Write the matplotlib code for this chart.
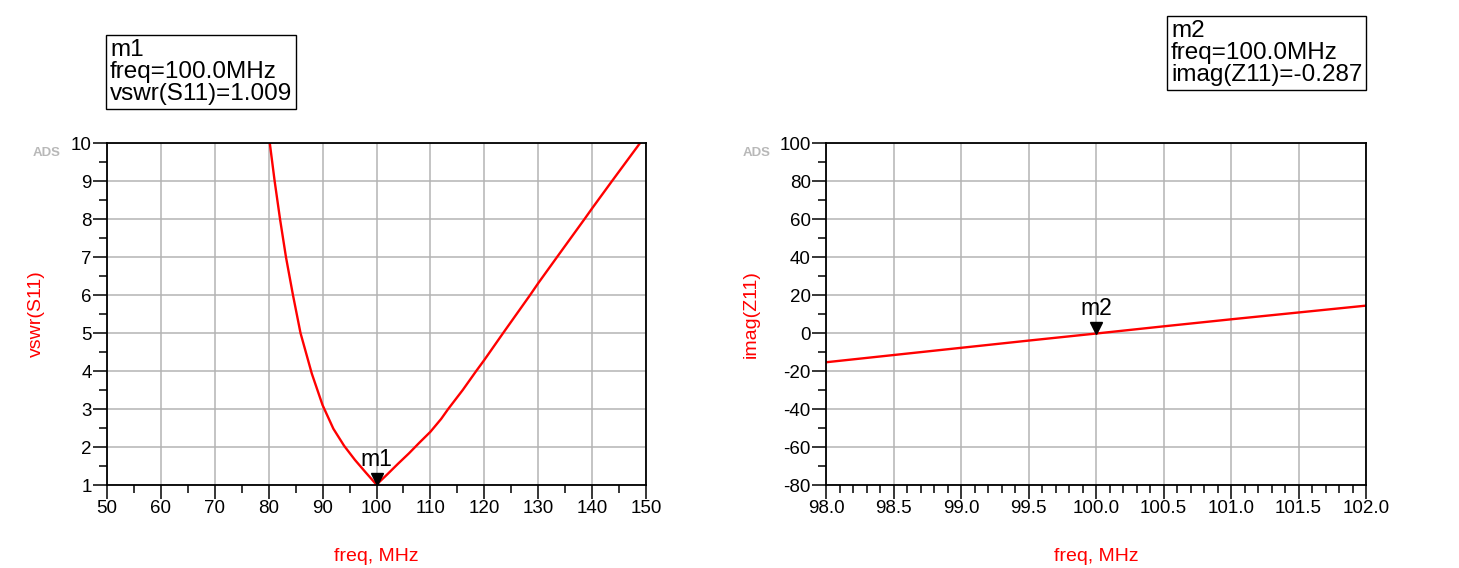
import matplotlib.pyplot as plt
from matplotlib.ticker import MultipleLocator, FormatStrFormatter
from matplotlib.transforms import ScaledTranslation

plt.rcParams['font.family'] = ['Liberation Sans', 'DejaVu Sans']
plt.rcParams['axes.unicode_minus'] = False

# --- data ---
# left: vswr(S11) vs freq (MHz)
freq_vswr = [80.0, 80.2, 81.1, 82.1, 83.2, 84.5, 85.9, 88.0, 90.0, 92.0, 94.0, 96.0, 98.0,
             100.0, 102.0, 104.0, 106.0, 108.0, 110.0, 112.0, 113.3, 116.0, 118.5, 120.0,
             123.5, 128.5, 130.0, 133.5, 138.6, 140.0, 143.7, 148.9, 150.0]
vswr_s11 = [10.2, 10.0, 9.0, 8.0, 7.0, 6.0, 5.0, 3.93, 3.1, 2.48, 2.03, 1.66, 1.33,
            1.009, 1.28, 1.56, 1.83, 2.12, 2.4, 2.74, 3.0, 3.5, 4.0, 4.29,
            5.0, 6.0, 6.31, 7.0, 8.0, 8.28, 9.0, 10.0, 10.22]

# right: imag(Z11) vs freq (MHz)
freq_z = [98.0, 98.5, 99.0, 99.5, 100.0, 100.5, 101.0, 101.5, 102.0]
imag_z11 = [-15.4, -11.6, -7.8, -4.0, -0.287, 3.5, 7.2, 10.8, 14.4]

m1_freq, m1_val = 100.0, 1.009
m2_freq, m2_val = 100.0, -0.287

red = '#ff0000'
grid_c = '#b4b4b4'

fig = plt.figure(figsize=(14.59, 5.68), dpi=100)
ax1 = fig.add_axes([107 / 1459, 1 - 485 / 568, 539 / 1459, 342 / 568])
ax2 = fig.add_axes([826 / 1459, 1 - 485 / 568, 540 / 1459, 342 / 568])


def style(ax):
    ax.grid(True, which='major', color=grid_c, linewidth=1.1)
    ax.set_axisbelow(True)
    for s in ax.spines.values():
        s.set_linewidth(1.3)
        s.set_color('black')
    ax.tick_params(which='major', direction='out', length=10, width=1.1,
                   labelsize=13.5, pad=1.0)
    ax.tick_params(which='minor', direction='out', length=6, width=1.1)


# --- left plot ---
ax1.plot(freq_vswr, vswr_s11, color=red, linewidth=1.7)
ax1.set_xlim(50, 150)
ax1.set_ylim(1, 10)
ax1.xaxis.set_major_locator(MultipleLocator(10))
ax1.xaxis.set_minor_locator(MultipleLocator(5))
ax1.yaxis.set_major_locator(MultipleLocator(1))
ax1.yaxis.set_minor_locator(MultipleLocator(0.5))
style(ax1)
ax1.set_xlabel('freq, MHz', color=red, fontsize=14)
ax1.set_ylabel('vswr(S11)', color=red, fontsize=14)
ax1.xaxis.set_label_coords(0.5, -0.185)
ax1.yaxis.set_label_coords(-0.115, 0.5)

# --- right plot ---
ax2.plot(freq_z, imag_z11, color=red, linewidth=1.7)
ax2.set_xlim(98, 102)
ax2.set_ylim(-80, 100)
ax2.xaxis.set_major_locator(MultipleLocator(0.5))
ax2.xaxis.set_minor_locator(MultipleLocator(0.1))
ax2.xaxis.set_major_formatter(FormatStrFormatter('%.1f'))
ax2.yaxis.set_major_locator(MultipleLocator(20))
ax2.yaxis.set_minor_locator(MultipleLocator(10))
style(ax2)
ax2.set_xlabel('freq, MHz', color=red, fontsize=14)
ax2.set_ylabel('imag(Z11)', color=red, fontsize=14)
ax2.xaxis.set_label_coords(0.5, -0.185)
ax2.yaxis.set_label_coords(-0.122, 0.5)

# --- markers ---
for ax, mx, my, name in [(ax1, m1_freq, m1_val, 'm1'), (ax2, m2_freq, m2_val, 'm2')]:
    tr = ax.transData + ScaledTranslation(0, 4 / 72, fig.dpi_scale_trans)
    ax.plot([mx], [my], marker='v', markersize=8, color='black',
            transform=tr, clip_on=False, zorder=5)
    ax.annotate(name, (mx, my), xytext=(0, 10), textcoords='offset points',
                ha='center', va='bottom', fontsize=16.5, zorder=6)

# --- marker readout boxes ---
box = dict(boxstyle='square,pad=0.15', facecolor='white', edgecolor='black', linewidth=1)
fig.text(110 / 1459, 1 - 39 / 568, 'm1\nfreq=100.0MHz\nvswr(S11)=1.009',
         fontsize=17.5, va='top', ha='left', linespacing=1.0, bbox=box)
fig.text(1171 / 1459, 1 - 20 / 568, 'm2\nfreq=100.0MHz\nimag(Z11)=-0.287',
         fontsize=17.5, va='top', ha='left', linespacing=1.0, bbox=box)

# --- ADS watermarks ---
fig.text(33 / 1459, 1 - 153 / 568, 'ADS', fontsize=9.5, color='#b8b8b8',
         fontweight='bold', va='center', ha='left')
fig.text(743 / 1459, 1 - 153 / 568, 'ADS', fontsize=9.5, color='#b8b8b8',
         fontweight='bold', va='center', ha='left')

fig.savefig('out.png', dpi=100)
